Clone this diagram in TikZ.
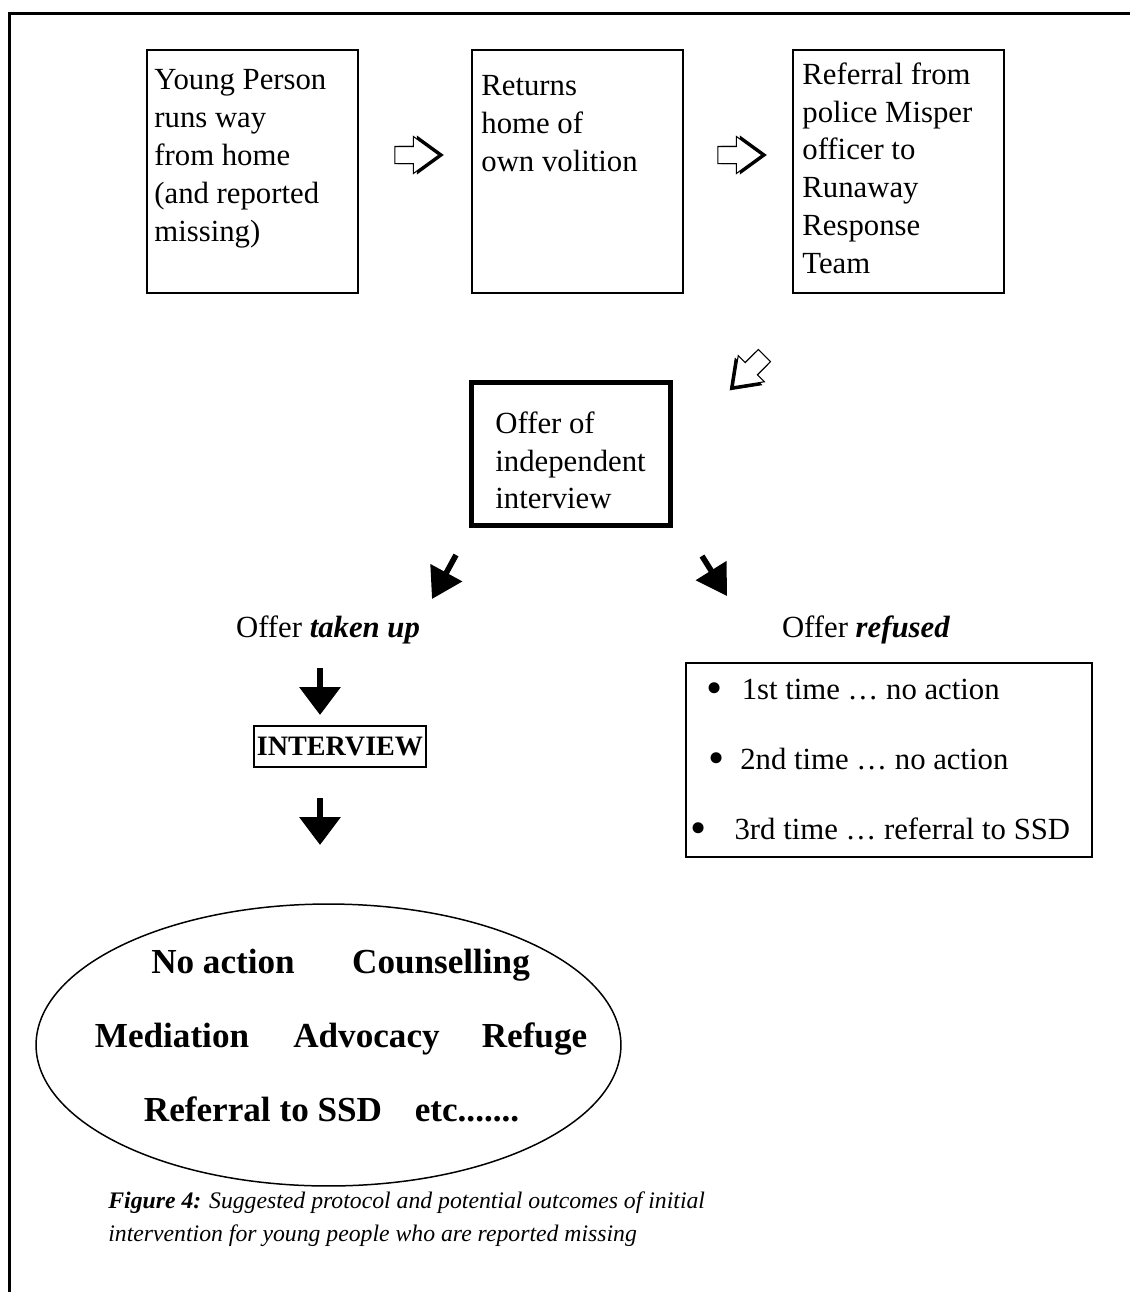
\documentclass[tikz,border=0pt]{standalone}
\usepackage{fontspec}
\setmainfont{Liberation Serif}
\usetikzlibrary{positioning, calc, shapes.geometric, shapes.arrows, arrows.meta}

\tikzset{
  flowbox/.style={draw, line width=1.1pt, minimum width=4.22cm, minimum height=4.86cm, inner sep=0pt},
  boxtext/.style={anchor=north west, align=left, inner sep=0pt, font=\fontsize{17.5}{21.6}\selectfont},
  hollowarrow/.style={single arrow, draw, fill=white, line width=0.6pt, inner xsep=0pt, inner ysep=0.16cm,
    minimum height=0.88cm, single arrow head extend=0.2cm, single arrow tip angle=72},
  arrowshade/.style={hollowarrow, fill=black},
  blackarrow/.style={line width=3.8pt, -{Triangle[length=0.56cm, width=0.8cm]}},
  slantarrow/.style={line width=3.2pt, -{Triangle[length=0.6cm, width=0.7cm]}},
  outcome/.style={anchor=base, font=\bfseries\fontsize{20}{24}\selectfont},
  label/.style={anchor=base, font=\fontsize{17.5}{21.6}\selectfont},
  bulletline/.style={anchor=base west, inner sep=0pt, font=\fontsize{17.5}{21.6}\selectfont},
}
\newcommand{\bigbullet}{\raisebox{-0.14em}{\scalebox{1.5}{\textbullet}}}

\begin{document}
\begin{tikzpicture}[x=0.02cm, y=-0.02cm]
  \useasboundingbox (0,0) rectangle (1130,1292);

  % Frame
  \draw[line width=1.5pt] (1130,13.5) -- (9.7,13.5) -- (9.7,1292);

  % Top row
  \node[flowbox] (young) at (252.5,171.5) {};
  \node[flowbox] (returns) at (577.5,171.5) {};
  \node[flowbox] (referral) at (898.5,171.5) {};
  \node[boxtext] (youngtext) at ($(young.north west)+(8,20)$) {Young Person\\runs way\\from home\\(and reported\\missing)};
  \node[boxtext] (returnstext) at ($(returns.north west)+(10,26)$) {Returns\\home of\\own volition};
  \node[boxtext] (referraltext) at ($(referral.north west)+(10,13)$) {Referral from\\police Misper\\officer to\\Runaway\\Response\\Team};

  % Hollow arrows
  \node[arrowshade] (shadeA) at (415,155) {};
  \node[hollowarrow] (stepA) at (411,155) {};
  \node[arrowshade] (shadeB) at (738,155) {};
  \node[hollowarrow] (stepB) at (734,155) {};
  \node[arrowshade, rotate=225] (shadeC) at (750,370) {};
  \node[hollowarrow, rotate=225] (stepC) at (753,367) {};

  % Offer box
  \node[draw, line width=2.8pt, minimum width=3.98cm, minimum height=2.86cm] (offer) at (571,454) {};
  \node[boxtext] (offertext) at ($(offer.north west)+(26,31)$) {Offer of\\independent\\interview};

  % Split
  \coordinate (leftfrom) at (456,555);
  \coordinate (leftto) at (432,599);
  \coordinate (rightfrom) at (702,556);
  \coordinate (rightto) at (727,596);
  \draw[slantarrow] (leftfrom) -- (leftto);
  \draw[slantarrow] (rightfrom) -- (rightto);
  \node[label] (takenup) at (328,637) {Offer \textbf{\textit{taken up}}};
  \node[label] (refused) at (866,637) {Offer \textbf{\textit{refused}}};

  % Taken up branch
  \coordinate (downA1) at (320,668);
  \coordinate (downA2) at (320,715);
  \draw[blackarrow] (downA1) -- (downA2);
  \node[draw, line width=0.9pt, minimum width=3.44cm, minimum height=0.82cm, inner sep=0pt,
    font=\bfseries\fontsize{16}{19}\selectfont] (interview) at (340,746.5) {INTERVIEW};
  \coordinate (downB1) at (320,798);
  \coordinate (downB2) at (320,845);
  \draw[blackarrow] (downB1) -- (downB2);

  % Outcomes
  \node[draw, ellipse, line width=0.85pt, minimum width=11.7cm, minimum height=5.64cm, inner sep=0pt] (outcomes) at (328.5,1045) {};
  \node[outcome] (noaction) at (223,973) {No action};
  \node[outcome] (counselling) at (441,973) {Counselling};
  \node[outcome] (mediation) at (172,1047) {Mediation};
  \node[outcome] (advocacy) at (366.5,1047) {Advocacy};
  \node[outcome] (refuge) at (534.5,1047) {Refuge};
  \node[outcome] (ssd) at (263,1121) {Referral to SSD};
  \node[outcome] (etc) at (467,1121) {etc.......};

  % Refused branch
  \node[draw, line width=1.3pt, minimum width=8.12cm, minimum height=3.88cm] (refusedbox) at (889,760) {};
  \node[bulletline] (firsttime) at (706,699) {\bigbullet\hspace{11pt}1st time … no action};
  \node[bulletline] (secondtime) at (708,769) {\bigbullet\hspace{9pt}2nd time … no action};
  \node[bulletline] (thirdtime) at (690,839) {\bigbullet\hspace{16pt}3rd time … referral to SSD};

  % Caption
  \node[anchor=north west, align=left, inner sep=0pt, font=\itshape\fontsize{13.5}{19.3}\selectfont] (caption) at (108,1191)
    {\textbf{Figure 4:} Suggested protocol and potential outcomes of initial\\intervention for young people who are reported missing};
\end{tikzpicture}
\end{document}
